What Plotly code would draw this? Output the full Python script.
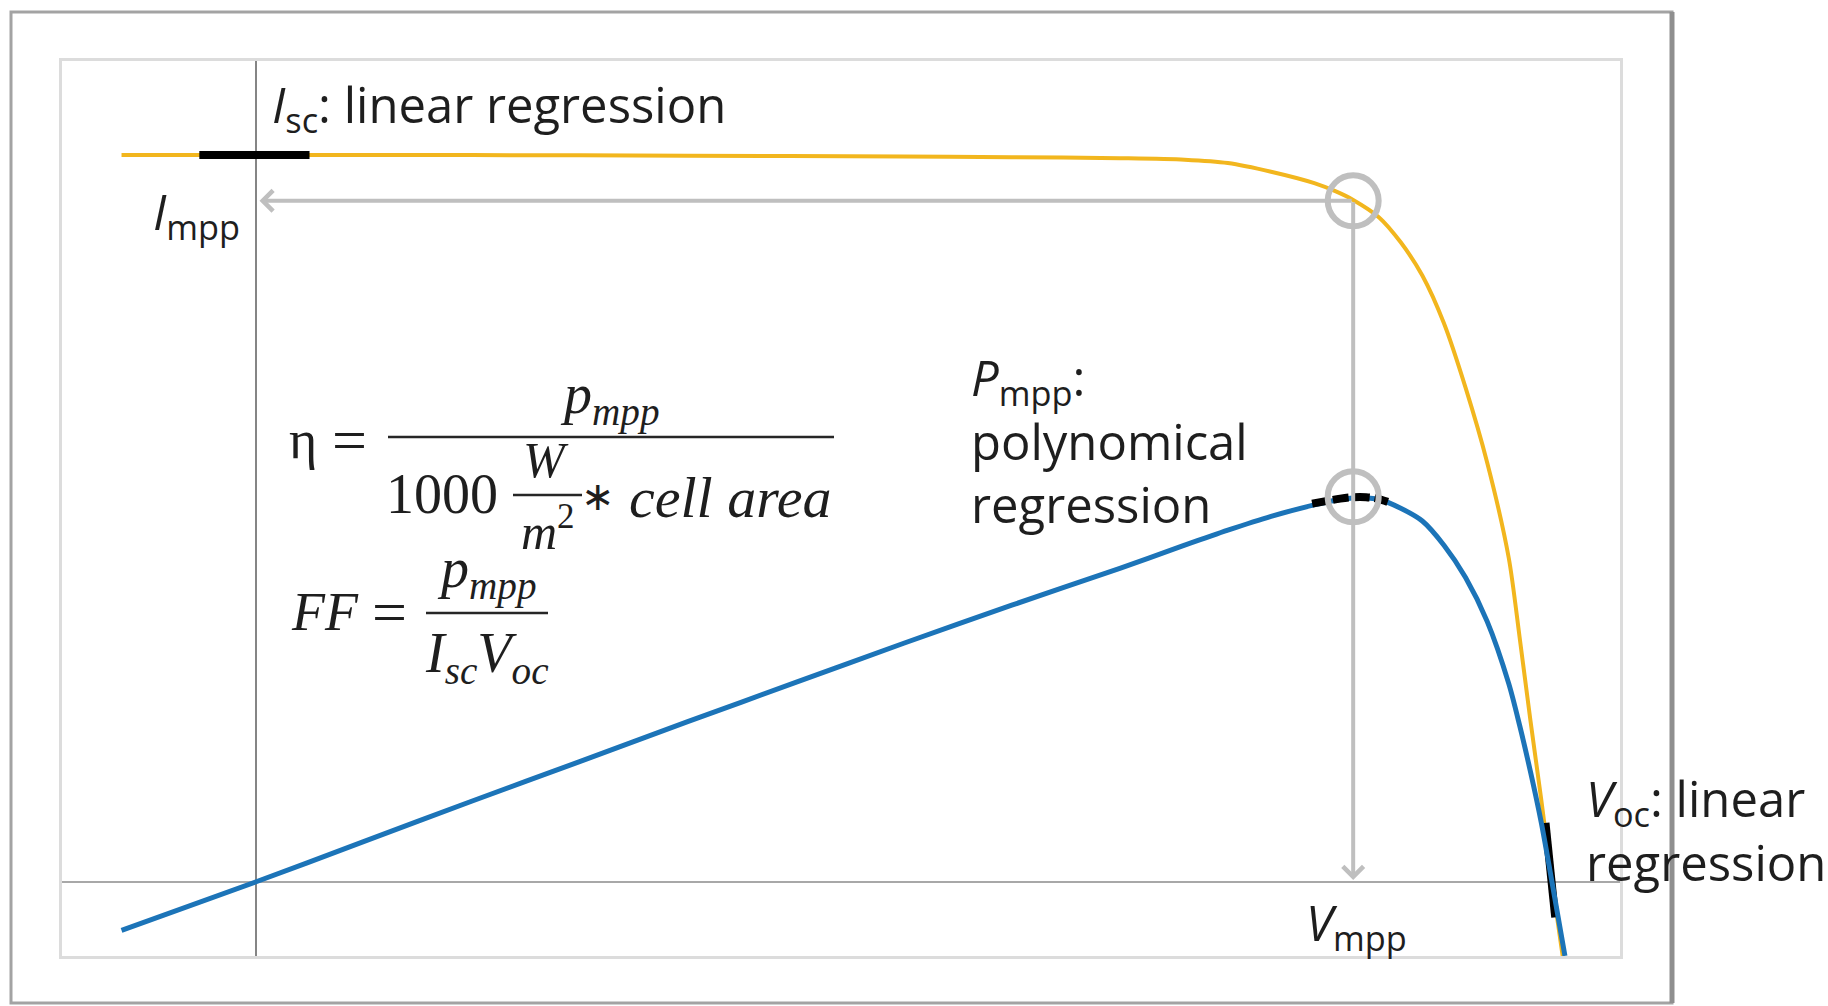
import plotly.graph_objects as go

# ---------------- data ----------------
# I-V curve (yellow): voltage in V, current in mA
iv_voltage = [-0.062, 0.0, 0.1, 0.2, 0.3, 0.35, 0.4, 0.43, 0.45, 0.47, 0.49, 0.5,
              0.508, 0.52, 0.53, 0.54, 0.55, 0.56, 0.57, 0.58, 0.585, 0.59, 0.595,
              0.6, 0.605]
iv_current = [35.0, 35.0, 35.0, 34.97, 34.93, 34.9, 34.85, 34.78, 34.62, 34.2, 33.65,
              33.25, 32.84, 32.0, 30.8, 29.2, 26.9, 23.8, 20.2, 15.6, 11.8, 7.8,
              4.0, 0.0, -3.6]

# P-V curve (blue): voltage in V, power in mW
pv_voltage = [-0.062, 0.0, 0.05, 0.1, 0.15, 0.2, 0.25, 0.3, 0.35, 0.4, 0.43, 0.45,
              0.47, 0.49, 0.5, 0.508, 0.52, 0.53, 0.54, 0.55, 0.56, 0.57, 0.58,
              0.585, 0.59, 0.595, 0.6, 0.606]
pv_power = [-2.1, 0.0, 1.75, 3.5, 5.22, 6.95, 8.65, 10.35, 12.0, 13.6, 14.6, 15.25,
            15.85, 16.35, 16.55, 16.65, 16.58, 16.2, 15.65, 14.6, 13.2, 11.3, 8.6,
            6.8, 4.8, 2.6, 0.0, -3.2]

# regression segments (black)
isc_fit_v = [-0.026, 0.025]
isc_fit_i = [35.0, 35.0]
voc_fit_v = [0.597, 0.6015]
voc_fit_i = [2.85, -1.7]
pmpp_fit_v = [0.489, 0.496, 0.502, 0.508, 0.514, 0.519, 0.524]
pmpp_fit_p = [16.4, 16.52, 16.62, 16.68, 16.68, 16.62, 16.48]

# maximum power point
v_mpp = 0.508
i_mpp = 32.8
p_mpp = 16.7

# ---------------- styling ----------------
YELLOW = "#F2B61E"
BLUE = "#1C74B8"
GRAY = "#BFBFBF"
TEXT = "#1E1E1E"
SANS = "Open Sans"
SERIF = "Liberation Serif"

W, H = 1828, 1006
L, R, T, B = 62, 1620, 61, 956  # plot area in pixels


def px(x):
    return (x - L) / (R - L)


def py(y):
    return (B - y) / (B - T)


fig = go.Figure()

fig.add_trace(go.Scatter(x=iv_voltage, y=iv_current, mode="lines",
                         line=dict(color=YELLOW, width=4, shape="spline",
                                   smoothing=0.8),
                         yaxis="y", hoverinfo="skip"))
fig.add_trace(go.Scatter(x=pv_voltage, y=pv_power, mode="lines",
                         line=dict(color=BLUE, width=5, shape="spline",
                                   smoothing=0.8),
                         yaxis="y2", hoverinfo="skip"))
fig.add_trace(go.Scatter(x=isc_fit_v, y=isc_fit_i, mode="lines",
                         line=dict(color="black", width=8), yaxis="y",
                         hoverinfo="skip"))
fig.add_trace(go.Scatter(x=voc_fit_v, y=voc_fit_i, mode="lines",
                         line=dict(color="black", width=8), yaxis="y",
                         hoverinfo="skip"))
fig.add_trace(go.Scatter(x=pmpp_fit_v, y=pmpp_fit_p, mode="lines",
                         line=dict(color="black", width=8, dash="16px,5px",
                                   shape="spline"),
                         yaxis="y2", hoverinfo="skip"))
fig.add_trace(go.Scatter(x=[v_mpp], y=[i_mpp], mode="markers", yaxis="y",
                         marker=dict(symbol="circle-open", size=51,
                                     line=dict(color=GRAY, width=6), color=GRAY),
                         hoverinfo="skip"))
fig.add_trace(go.Scatter(x=[v_mpp], y=[p_mpp], mode="markers", yaxis="y2",
                         marker=dict(symbol="circle-open", size=51,
                                     line=dict(color=GRAY, width=6), color=GRAY),
                         hoverinfo="skip"))

annotations = [
    # arrows from MPP to the axes
    dict(x=0, y=i_mpp, ax=v_mpp, ay=i_mpp, xref="x", yref="y", axref="x",
         ayref="y", text="", showarrow=True, arrowhead=4, arrowsize=1,
         arrowwidth=4, arrowcolor=GRAY, standoff=4),
    dict(x=v_mpp, y=0, ax=v_mpp, ay=i_mpp, xref="x", yref="y", axref="x",
         ayref="y", text="", showarrow=True, arrowhead=4, arrowsize=1,
         arrowwidth=4, arrowcolor=GRAY, standoff=2),
]


def label(text, x, y, xanchor="left", yanchor="middle", size=49, family=SANS,
          align="left"):
    annotations.append(dict(text=text, x=px(x), y=py(y), xref="paper",
                            yref="paper", xanchor=xanchor, yanchor=yanchor,
                            showarrow=False, align=align,
                            font=dict(family=family, size=size, color=TEXT)))


label("<i>I</i><sub>sc</sub>: linear regression", 270, 107)
label("<i>I</i><sub>mpp</sub>", 242, 214, xanchor="right")
label("<i>P</i><sub>mpp</sub>:<br>polynomical<br>regression", 969, 440)
label("<i>V</i><sub>mpp</sub>", 1304, 925)
label("<i>V</i><sub>oc</sub>: linear<br>regression", 1584, 830)

# efficiency equation
label("η", 287, 440, size=54, family=SERIF)
label("=", 330, 440, size=62, family=SERIF)
label("<i>p<sub>mpp</sub></i>", 610, 398, xanchor="center", size=56, family=SERIF)
label("1000", 500, 494, xanchor="right", size=56, family=SERIF)
label("<i>W</i>", 546, 460, xanchor="center", size=50, family=SERIF)
label("<i>m</i><sup>2</sup>", 548, 528, xanchor="center", size=50, family=SERIF)
label("∗", 598, 496, xanchor="center", size=40, family=SERIF)
label("<i>cell area</i>", 627, 497, size=58, family=SERIF)
# fill factor equation
label("<i>FF</i>", 289, 612, size=54, family=SERIF)
label("=", 370, 612, size=62, family=SERIF)
label("<i>p<sub>mpp</sub></i>", 487, 572, xanchor="center", size=56, family=SERIF)
label("<i>I<sub>sc</sub>V<sub>oc</sub></i>", 487, 657, xanchor="center", size=56,
      family=SERIF)

shapes = [
    # outer frame
    dict(type="rect", xref="paper", yref="paper", x0=px(11), x1=px(1672),
         y0=py(1003), y1=py(12), line=dict(color="#A3A3A3", width=3),
         layer="below"),
    dict(type="line", xref="paper", yref="paper", x0=px(1672), x1=px(1672),
         y0=py(1003), y1=py(12), line=dict(color="#8F8F8F", width=5)),
    # fraction bars
    dict(type="line", xref="paper", yref="paper", x0=px(388), x1=px(834),
         y0=py(437), y1=py(437), line=dict(color="#262626", width=2.5)),
    dict(type="line", xref="paper", yref="paper", x0=px(513), x1=px(582),
         y0=py(495), y1=py(495), line=dict(color="#262626", width=2.5)),
    dict(type="line", xref="paper", yref="paper", x0=px(426), x1=px(548),
         y0=py(613), y1=py(613), line=dict(color="#262626", width=2.5)),
]

fig.update_layout(
    width=W, height=H,
    margin=dict(l=L, r=W - R, t=T, b=H - B, pad=0),
    paper_bgcolor="white", plot_bgcolor="white",
    showlegend=False,
    xaxis=dict(range=[-0.08955, 0.63148], showgrid=False, showticklabels=False,
               ticks="", zeroline=True, zerolinecolor="#858585",
               zerolinewidth=2, showline=True, mirror=True,
               linecolor="#DCDCDC", linewidth=3),
    yaxis=dict(range=[-3.563, 39.53], showgrid=False, showticklabels=False,
               ticks="", zeroline=True, zerolinecolor="#A8A8A8",
               zerolinewidth=2, showline=True, mirror=True,
               linecolor="#DCDCDC", linewidth=3),
    yaxis2=dict(range=[-3.207, 35.59], overlaying="y", side="right",
                showgrid=False, showticklabels=False, ticks="",
                zeroline=False, showline=False),
    annotations=annotations,
    shapes=shapes,
)

fig.write_html("out.html", include_plotlyjs=True, full_html=True,
               config={"displayModeBar": False, "staticPlot": True},
               post_script="document.body.style.margin='0';"
                           "document.body.style.overflow='hidden';")
